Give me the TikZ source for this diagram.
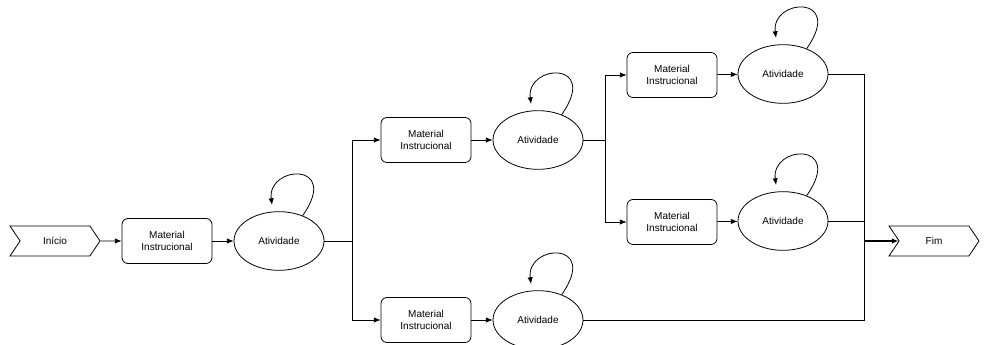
\documentclass[tikz,border=0pt]{standalone}
\usepackage{fontspec}
\setmainfont{Liberation Sans}
\usetikzlibrary{shapes.geometric,shapes.symbols,arrows.meta}

\begin{document}
\begin{tikzpicture}[x=0.75pt,y=0.75pt,line width=0.6pt,
  >={Latex[length=5pt,width=4pt]},
  material/.style={draw,rounded corners=4.5pt,minimum width=67.5pt,minimum height=33.75pt,
    inner sep=0pt,align=center,font=\fontsize{7.5}{9}\selectfont},
  atividade/.style={draw,ellipse,minimum width=67.5pt,minimum height=44pt,inner sep=0pt,
    font=\fontsize{7.5}{9}\selectfont},
  marco/.style={draw,signal,signal to=east,signal from=west,signal pointer angle=112,
    minimum width=67.5pt,minimum height=22.5pt,inner sep=0pt,font=\fontsize{7.5}{9}\selectfont}]
\useasboundingbox (0,0) rectangle (984,345);
% inicio e primeira etapa
\node[marco] (inicio) at (55,104) {Início};
\node[material] (mat1) at (167,104) {Material\\Instrucional};
\node[atividade] (ativ1) at (279,104) {Atividade};
% ramo superior
\node[material] (mat2) at (426,205) {Material\\Instrucional};
\node[atividade] (ativ2) at (538,205) {Atividade};
\node[material] (mat3) at (672,270) {Material\\Instrucional};
\node[atividade] (ativ3) at (783,271) {Atividade};
\node[material] (mat5) at (672,123) {Material\\Instrucional};
\node[atividade] (ativ5) at (783,124) {Atividade};
% ramo inferior
\node[material] (mat4) at (426,25) {Material\\Instrucional};
\node[atividade] (ativ4) at (538,25) {Atividade};
% fim
\node[marco] (fim) at (934,104) {Fim};
\coordinate (ramo1) at (352,104);
\coordinate (ramo2) at (605,205);
\coordinate (junta) at (864,104);

\draw[->] (inicio) -- (mat1);
\draw[->] (mat1) -- (ativ1);
\draw (ativ1) -- (ramo1);
\draw[->] (ramo1) |- (mat2);
\draw[->] (ramo1) |- (mat4);
\draw[->] (mat2) -- (ativ2);
\draw[->] (mat4) -- (ativ4);
\draw (ativ2) -- (ramo2);
\draw[->] (ramo2) |- (mat3);
\draw[->] (ramo2) |- (mat5);
\draw[->] (mat3) -- (ativ3);
\draw[->] (mat5) -- (ativ5);
\draw (ativ3) -| (junta);
\draw (ativ5) -| (junta);
\draw (ativ4) -| (junta);
\draw[->,line width=1.5pt] (junta) -- (fim.west);
% lacos das atividades
\foreach \a in {ativ1,ativ2,ativ3,ativ4,ativ5}
  \draw[->] (\a.47) .. controls ([shift={(62,80)}]\a.center) and ([shift={(-12,76)}]\a.center) .. ([shift={(-7,36)}]\a.center);
\end{tikzpicture}
\end{document}
